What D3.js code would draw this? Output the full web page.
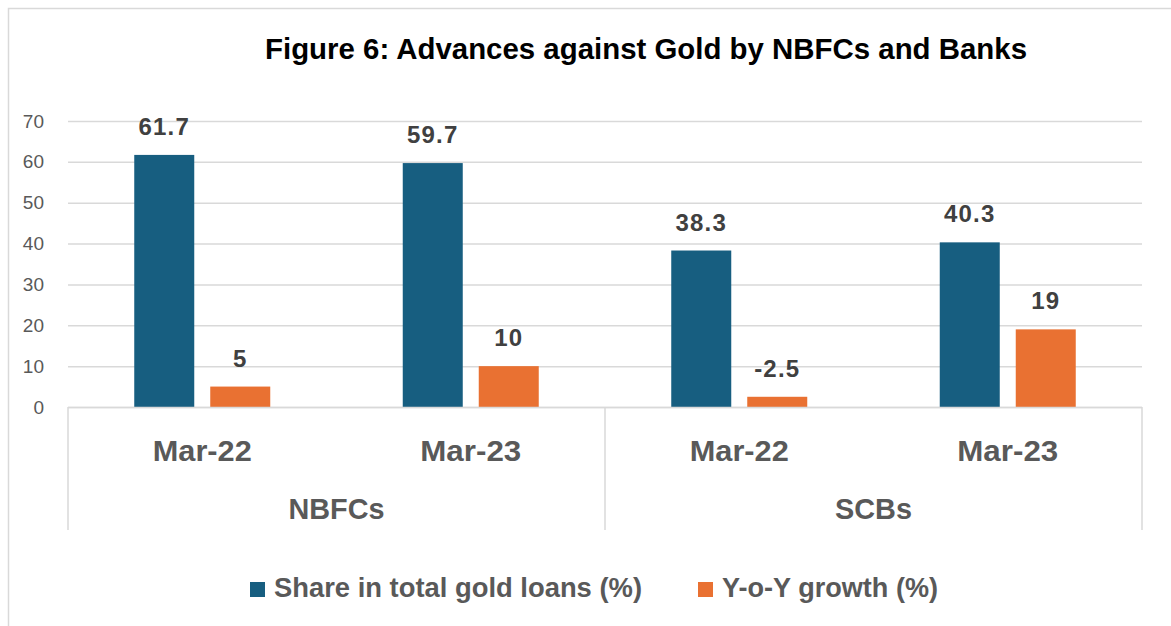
<!DOCTYPE html>
<html>
<head>
<meta charset="utf-8">
<script src="https://cdn.jsdelivr.net/npm/d3@7"></script>
<style>
  html, body { margin: 0; padding: 0; background: #fff; }
  svg { display: block; }
</style>
</head>
<body>
<svg id="chart" width="1171" height="626"></svg>
<script>
// Gold loan advances by lender group
const groups = ["NBFCs", "SCBs"];
const periods = ["Mar-22", "Mar-23"];
const shareValues = [61.7, 59.7, 38.3, 40.3];   // Share in total gold loans (%)
const growthValues = [5, 10, -2.5, 19];         // Y-o-Y growth (%)
const seriesNames = ["Share in total gold loans (%)", "Y-o-Y growth (%)"];
const seriesColors = ["#175e80", "#e97132"];
const yTicks = [0, 10, 20, 30, 40, 50, 60, 70];

const sans = "'Liberation Sans', Arial, sans-serif";

const svg = d3.select("#chart");
const W = 1171, H = 626;
const plot = { left: 68, right: 1142, top: 121, bottom: 407 };

// Condensed bold text: glyphs squeezed to a target width
function condensed(sel, width) {
  return sel.attr("textLength", width).attr("lengthAdjust", "spacingAndGlyphs");
}

// Outer frame
svg.append("rect")
  .attr("x", 8.5).attr("y", 8.5)
  .attr("width", W + 20).attr("height", H + 20)
  .attr("fill", "none").attr("stroke", "#d9d9d9").attr("stroke-width", 1.5);

// Title
condensed(svg.append("text")
  .attr("x", 265).attr("y", 59)
  .attr("font-family", sans)
  .attr("font-weight", "bold")
  .attr("font-size", 29)
  .attr("fill", "#000")
  .text("Figure 6: Advances against Gold by NBFCs and Banks"), 762);

// Flattened categories: each group × period
const cats = [];
groups.forEach(g => periods.forEach(p => cats.push({ group: g, period: p, key: g + "|" + p })));
cats.forEach((c, i) => { c.share = shareValues[i]; c.growth = growthValues[i]; });

const x = d3.scaleBand()
  .domain(cats.map(c => c.key))
  .range([plot.left, plot.right])
  .paddingInner(0).paddingOuter(0);

const y = d3.scaleLinear().domain([0, 70]).range([plot.bottom, plot.top]);

// Gridlines and y-axis labels
const yAxis = d3.axisLeft(y)
  .tickValues(yTicks)
  .tickSize(-(plot.right - plot.left))
  .tickPadding(24)
  .tickFormat(d3.format("d"));

const gy = svg.append("g")
  .attr("transform", `translate(${plot.left},0)`)
  .call(yAxis);
gy.select(".domain").remove();
gy.selectAll(".tick line").attr("stroke", "#d9d9d9").attr("stroke-width", 1.5);
gy.selectAll(".tick text")
  .attr("font-family", sans)
  .attr("font-size", 19)
  .attr("fill", "#595959");

// Bars
const bw = 60, gap = 8;
const barG = svg.append("g");
const labelG = svg.append("g")
  .attr("font-family", sans).attr("font-weight", "bold")
  .attr("font-size", 24).attr("fill", "#404040")
  .attr("text-anchor", "middle")
  .attr("letter-spacing", 1.2);

cats.forEach(c => {
  const cx = x(c.key) + x.bandwidth() / 2;
  // Share bar
  barG.append("rect")
    .attr("x", cx - gap - bw).attr("width", bw)
    .attr("y", y(c.share)).attr("height", y(0) - y(c.share))
    .attr("fill", seriesColors[0]);
  // Growth bar (drawn by magnitude from the baseline)
  const gv = Math.abs(c.growth);
  barG.append("rect")
    .attr("x", cx + gap).attr("width", bw)
    .attr("y", y(gv)).attr("height", y(0) - y(gv))
    .attr("fill", seriesColors[1]);

  // Value labels
  labelG.append("text")
    .attr("x", cx - gap - bw / 2).attr("y", y(c.share) - 20)
    .text(c.share);
  labelG.append("text")
    .attr("x", cx + gap + bw / 2).attr("y", y(gv) - 20)
    .text(c.growth);
});

// Category axis (two levels)
const axisG = svg.append("g");
axisG.append("line")
  .attr("x1", plot.left).attr("x2", plot.right)
  .attr("y1", plot.bottom + 0.5).attr("y2", plot.bottom + 0.5)
  .attr("stroke", "#d9d9d9").attr("stroke-width", 1.5);

const groupBounds = groups.map(g => {
  const keys = cats.filter(c => c.group === g).map(c => c.key);
  return { g, x0: x(keys[0]), x1: x(keys[keys.length - 1]) + x.bandwidth() };
});
const dividers = [plot.left, ...groupBounds.map(b => b.x1)];
dividers.forEach(dx => {
  axisG.append("line")
    .attr("x1", dx).attr("x2", dx)
    .attr("y1", plot.bottom).attr("y2", 530)
    .attr("stroke", "#d9d9d9").attr("stroke-width", 1.5);
});

const periodWidth = { "Mar-22": 99, "Mar-23": 101 };
cats.forEach(c => {
  condensed(axisG.append("text")
    .attr("x", x(c.key) + x.bandwidth() / 2 - periodWidth[c.period] / 2).attr("y", 461)
    .attr("font-family", sans).attr("font-weight", "bold")
    .attr("font-size", 30).attr("fill", "#595959")
    .text(c.period), periodWidth[c.period]);
});
const groupWidth = { "NBFCs": 96, "SCBs": 77 };
groupBounds.forEach(b => {
  condensed(axisG.append("text")
    .attr("x", (b.x0 + b.x1) / 2 - groupWidth[b.g] / 2).attr("y", 519)
    .attr("font-family", sans).attr("font-weight", "bold")
    .attr("font-size", 30).attr("fill", "#595959")
    .text(b.g), groupWidth[b.g]);
});

// Legend
const legendItems = [
  { name: seriesNames[0], color: seriesColors[0], x: 250, w: 368 },
  { name: seriesNames[1], color: seriesColors[1], x: 698, w: 216 }
];
legendItems.forEach(it => {
  svg.append("rect")
    .attr("x", it.x).attr("y", 582).attr("width", 15).attr("height", 15)
    .attr("fill", it.color);
  condensed(svg.append("text")
    .attr("x", it.x + 24).attr("y", 597)
    .attr("font-family", sans).attr("font-weight", "bold")
    .attr("font-size", 28).attr("fill", "#595959")
    .text(it.name), it.w);
});
</script>
</body>
</html>
